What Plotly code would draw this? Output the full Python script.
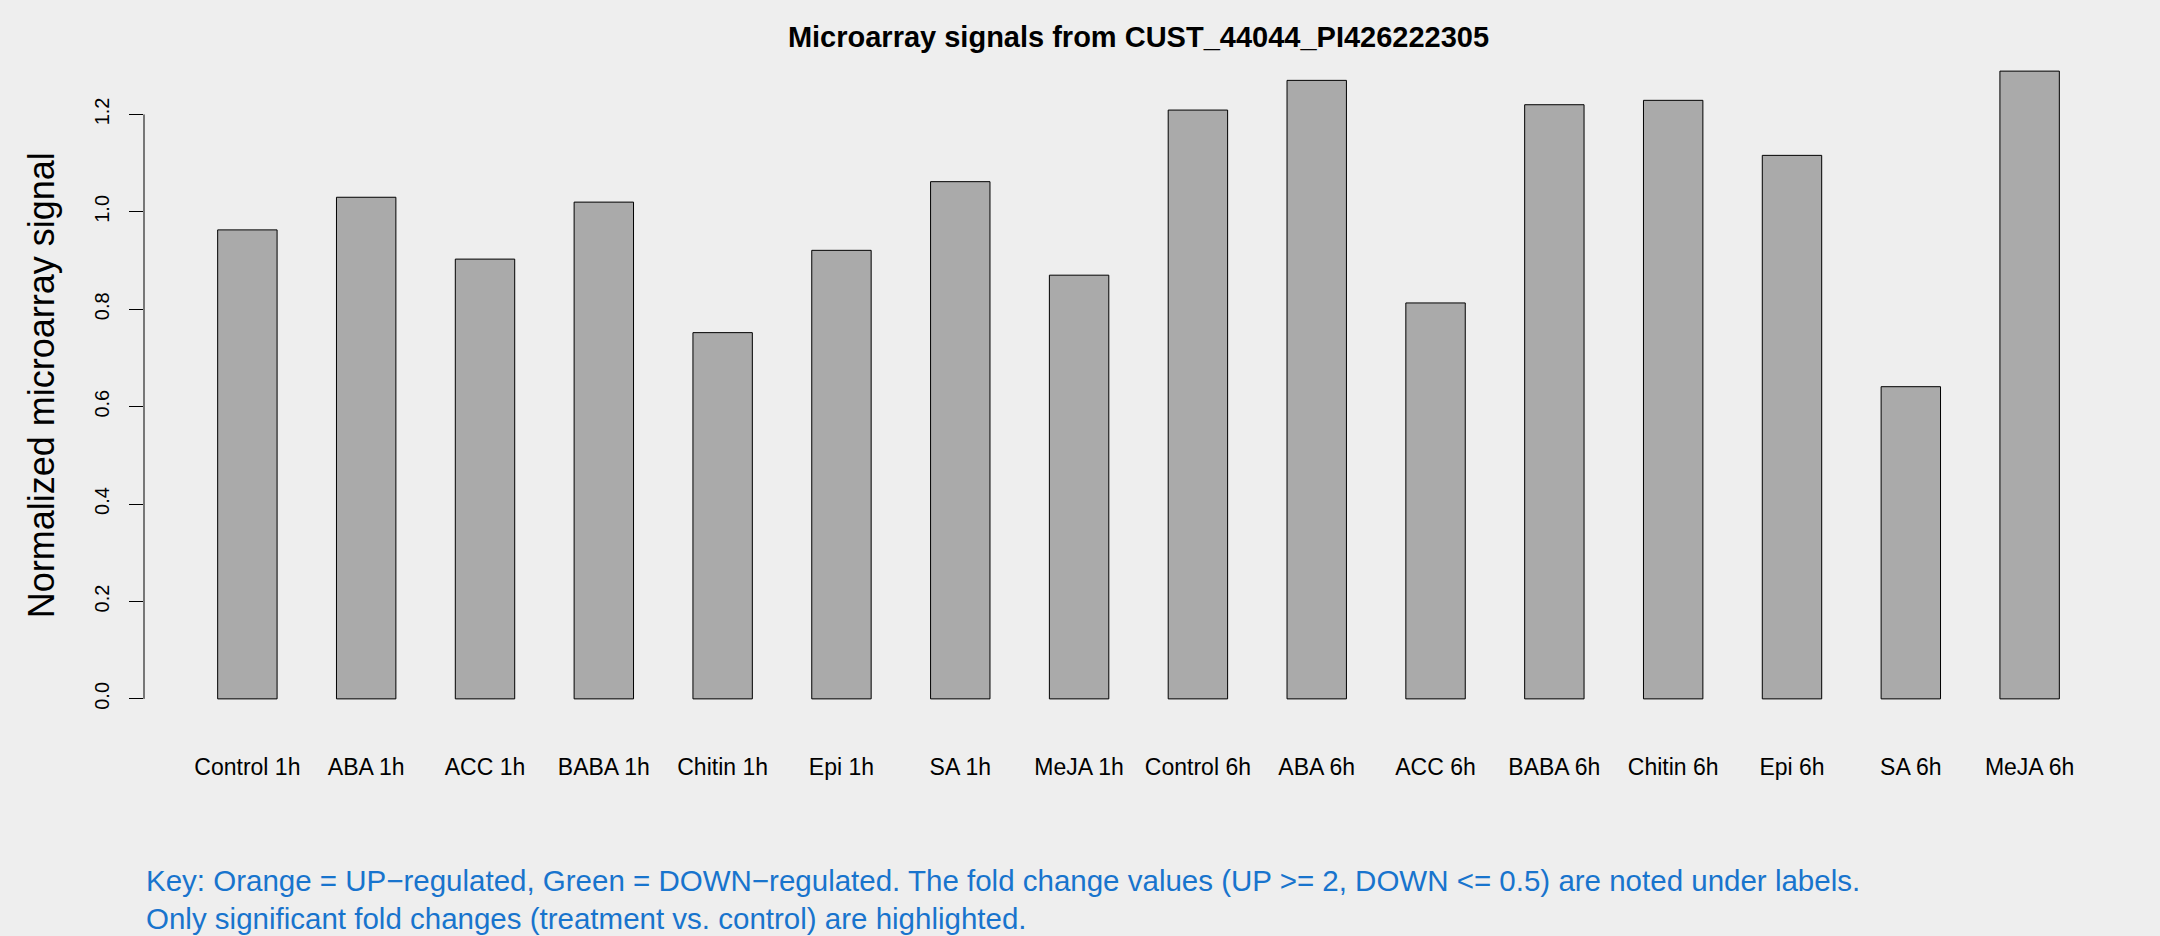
import plotly.graph_objects as go

categories = ["Control 1h", "ABA 1h", "ACC 1h", "BABA 1h", "Chitin 1h", "Epi 1h", "SA 1h", "MeJA 1h",
              "Control 6h", "ABA 6h", "ACC 6h", "BABA 6h", "Chitin 6h", "Epi 6h", "SA 6h", "MeJA 6h"]
signal = [0.963, 1.030, 0.903, 1.020, 0.752, 0.921, 1.062, 0.870,
          1.209, 1.270, 0.813, 1.220, 1.229, 1.116, 0.641, 1.289]
y_ticks = [0.0, 0.2, 0.4, 0.6, 0.8, 1.0, 1.2]
y_tick_labels = ["0.0", "0.2", "0.4", "0.6", "0.8", "1.0", "1.2"]

title_text = "Microarray signals from CUST_44044_PI426222305"
y_title = "Normalized microarray signal"
key_text = ("Key: Orange = UP\u2212regulated, Green = DOWN\u2212regulated. The fold change values "
            "(UP >= 2, DOWN <= 0.5) are noted under labels.<br>"
            "Only significant fold changes (treatment vs. control) are highlighted.")

FONT = "Liberation Sans, Arial, Helvetica, sans-serif"
BG = "#EEEEEE"

fig = go.Figure()
fig.add_trace(go.Bar(
    x=categories, y=signal,
    marker=dict(color="#AAAAAA", line=dict(color="#000000", width=1)),
    width=0.5,
))

ymax = max(signal)
fig.update_layout(
    width=2160, height=936,
    paper_bgcolor=BG, plot_bgcolor=BG,
    margin=dict(l=144, r=27, t=46, b=212),
    showlegend=False,
    font=dict(family=FONT, color="#000000"),
    title=dict(text="<b>" + title_text + "</b>", x=0.5, xref="paper", xanchor="center",
               y=1 - 37 / 936, yanchor="middle", font=dict(size=29, family=FONT)),
    xaxis=dict(
        type="category", range=[-0.87, 15.87], showgrid=False, zeroline=False, showline=False,
        ticks="outside", ticklen=22, tickcolor=BG, tickfont=dict(size=23, family=FONT),
    ),
    yaxis=dict(
        range=[-0.04 * ymax, ymax * 1.04], showgrid=False, zeroline=False, showline=False,
        tickmode="array", tickvals=y_ticks, ticktext=y_tick_labels,
        ticks="outside", ticklen=14, tickwidth=1, tickcolor="#000000",
        tickangle=-90, tickfont=dict(size=20, family=FONT), ticklabelstandoff=12,
    ),
    shapes=[dict(type="line", xref="paper", yref="y", x0=0, x1=0, y0=y_ticks[0], y1=y_ticks[-1],
                 line=dict(color="#000000", width=1))],
    annotations=[
        dict(text=y_title, xref="paper", yref="paper", x=-0.0516, y=0.5, xanchor="center",
             yanchor="middle", textangle=-90, showarrow=False, font=dict(size=36, family=FONT)),
        dict(text=key_text, xref="paper", yref="paper", x=0, y=-0.2582, xanchor="left",
             yanchor="middle", align="left", showarrow=False,
             font=dict(size=29.5, family=FONT, color="#1874CD")),
    ],
)

fig.write_html("out.html", config={"displayModeBar": False})

with open("out.html", "r", encoding="utf-8") as f:
    html = f.read()
html = html.replace("<head>", "<head><style>html,body{margin:0;padding:0;background:#EEEEEE;}</style>", 1)
with open("out.html", "w", encoding="utf-8") as f:
    f.write(html)
